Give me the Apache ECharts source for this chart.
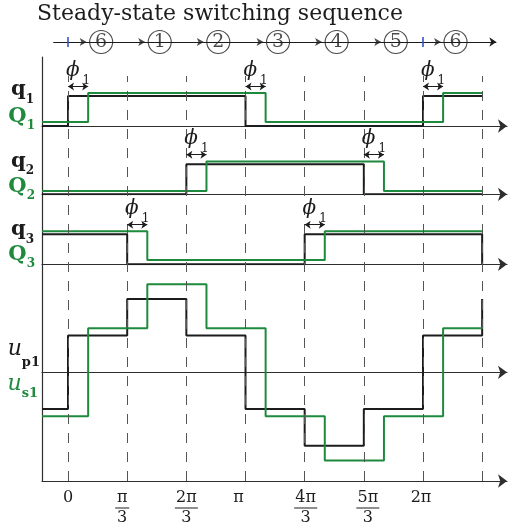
<!DOCTYPE html>
<html><head><meta charset="utf-8">
<script src="https://cdn.jsdelivr.net/npm/echarts@6/dist/echarts.min.js"></script>
<style>html,body{margin:0;padding:0;background:#fff}#c{width:513px;height:522px}</style>
</head><body><div id="c"></div>
<script>
// ---------- data (x measured in units of pi/3) ----------
const X_START = -0.44;          // left edge of the plotted window
const X_END = 7.42;             // right edge (arrow end)
const SECTOR_TICKS = [0, 1, 2, 3, 4, 5, 6, 7];
const TICK_LABELS = ['0', 'π/3', '2π/3', 'π', '4π/3', '5π/3', '2π'];
const PHI = 0.34;               // phase shift phi_1 (in pi/3 units)
const PHI_LEVEL = 1.32;         // height of the phi_1 arrows

const SEQ_POS = [0.56, 1.55, 2.54, 3.55, 4.54, 5.54, 6.55];
const SEQ_LABELS = ['6', '1', '2', '3', '4', '5', '6'];
const SEQ_MARKS = [0, 6];
const SEQ_RANGE = [-0.25, 7.24];

// gate signals: switching instants and levels
const q1_x = [X_START, 0, 3, 6, 7];            const q1_v = [0, 1, 0, 1, 1];
const Q1_x = [X_START, 0.34, 3.34, 6.34, 7];   const Q1_v = [0.13, 1.1, 0.13, 1.1, 1.1];
const q2_x = [X_START, 2, 5, 7];               const q2_v = [0, 1, 0, 0];
const Q2_x = [X_START, 2.34, 5.34, 7];         const Q2_v = [0.11, 1.09, 0.11, 0.11];
const q3_x = [X_START, 1, 4, 7];               const q3_v = [1, 0, 1, 0];
const Q3_x = [X_START, 1.34, 4.34, 7];         const Q3_v = [1.1, 0.14, 1.1, 1.1];
const q1_phi = [0, 3, 6];
const q2_phi = [2, 5];
const q3_phi = [1, 4];

// phase voltages
const up1_x = [X_START, 0, 1, 2, 3, 4, 5, 6, 7];
const up1_v = [-1, 1, 2, 1, -1, -2, -1, 1, 2];
const us1_x = [X_START, 0.34, 1.34, 2.34, 3.34, 4.34, 5.34, 6.34, 7];
const us1_v = [-1.2, 1.2, 2.4, 1.2, -1.2, -2.4, -1.2, 1.2, 1.2];

// ---------- styling ----------
const SERIF = 'DejaVu Serif';
const INK = '#1c1c1c', GREEN = '#1e8a3d', AXIS = '#2e2e2e', DASH = '#555555', BLUE = '#3553c8';
const LEFT = 42, RIGHT = 6;
const LABEL_NUDGE = [0, -5, 0, -7, 1, 4, -2];   // horizontal pixel nudges of the tick labels

function mkGrid(o) { return Object.assign({ left: LEFT, right: RIGHT, containLabel: false, outerBoundsMode: 'none' }, o); }
const grids = [
  mkGrid({ top: 57, bottom: 41 }),          // 0 frame
  mkGrid({ top: 76, bottom: 41 }),          // 1 dashed guides
  mkGrid({ top: 81, height: 45 }),          // 2 q1
  mkGrid({ top: 149.3, height: 45 }),       // 3 q2
  mkGrid({ top: 219.3, height: 45 }),       // 4 q3
  mkGrid({ top: 262.2, height: 220.2 }),    // 5 u
  mkGrid({ top: 30, height: 24 })           // 6 sequence
];

const arrowLine = { show: true, onZero: false, symbol: ['none', 'arrow'], symbolSize: [10, 9], lineStyle: { color: AXIS, width: 1.2 } };

const tickRich = {
  n: { fontFamily: SERIF, fontSize: 16, lineHeight: 17, color: INK },
  d: { fontFamily: SERIF, fontSize: 16, lineHeight: 16, color: INK },
  bn: { width: 14, height: 1, lineHeight: 4, fontSize: 1, backgroundColor: INK },
  bw: { width: 23, height: 1, lineHeight: 4, fontSize: 1, backgroundColor: INK }
};
for (let w = 1; w <= 20; w++) tickRich['sp' + w] = { width: w, fontSize: 1 };
function tickFmt(v) {
  const i = SECTOR_TICKS.indexOf(v);
  const t = TICK_LABELS[i];
  if (t === undefined) return '';
  const s = LABEL_NUDGE[i] || 0;
  const w = Math.round(Math.abs(s) * 2);
  const pad = body => w === 0 ? body : (s < 0 ? body + '{sp' + w + '| }' : '{sp' + w + '| }' + body);
  const p = t.split('/');
  if (p.length === 1) return pad('{n|' + t + '}');
  return [pad('{n|' + p[0] + '}'), pad('{' + (p[0].length > 1 ? 'bw' : 'bn') + '| }'), pad('{d|' + p[1] + '}')].join('\n');
}

function xAx(g, extra) {
  return Object.assign({ type: 'value', gridIndex: g, min: X_START, max: X_END,
    splitLine: { show: false }, axisTick: { show: false }, axisLabel: { show: false }, axisLine: { show: false } }, extra || {});
}
const xAxes = [
  xAx(0, { axisLine: arrowLine, axisLabel: { show: true, hideOverlap: false, customValues: [0, 1, 2, 3, 4, 5, 6], margin: 8,
      formatter: tickFmt, rich: tickRich } }),
  xAx(1, { show: false }),
  xAx(2, { axisLine: arrowLine }),
  xAx(3, { axisLine: arrowLine }),
  xAx(4, { axisLine: arrowLine }),
  xAx(5, { axisLine: Object.assign({}, arrowLine, { onZero: true }) }),
  xAx(6, { show: false })
];

const qRich = {
  k: { fontFamily: SERIF, fontWeight: 'bold', fontSize: 21, lineHeight: 24, padding: [0, 0, 8, 0], color: INK },
  ks: { fontFamily: SERIF, fontWeight: 'bold', fontSize: 12, lineHeight: 12, verticalAlign: 'bottom', color: INK },
  g: { fontFamily: SERIF, fontWeight: 'bold', fontSize: 21, lineHeight: 24, padding: [0, 0, 6, 0], color: GREEN },
  gs: { fontFamily: SERIF, fontWeight: 'bold', fontSize: 12, lineHeight: 12, verticalAlign: 'bottom', color: GREEN }
};
const uRich = {
  u: { fontFamily: SERIF, fontStyle: 'italic', fontSize: 22, lineHeight: 24, padding: [0, 0, 16, 0], color: INK },
  p: { fontFamily: SERIF, fontWeight: 'bold', fontSize: 13, lineHeight: 14, verticalAlign: 'bottom', color: INK },
  v: { fontFamily: SERIF, fontStyle: 'italic', fontSize: 22, lineHeight: 24, padding: [0, 0, 9, 0], color: GREEN },
  s: { fontFamily: SERIF, fontWeight: 'bold', fontSize: 13, lineHeight: 14, verticalAlign: 'bottom', color: GREEN }
};
// label-only y axis (one label per axis so none is hidden by overlap handling)
function labelAxis(g, min, max, at, text, rich, margin) {
  return { type: 'value', gridIndex: g, min: min, max: max, position: 'left',
    splitLine: { show: false }, axisLine: { show: false, onZero: false }, axisTick: { show: false },
    axisLabel: { show: true, hideOverlap: false, customValues: [at], margin: margin, align: 'right',
      formatter: () => text, rich: rich } };
}
const yAxes = [
  { type: 'value', gridIndex: 0, min: 0, max: 1, splitLine: { show: false }, axisTick: { show: false }, axisLabel: { show: false },
    axisLine: { show: true, onZero: false, lineStyle: { color: AXIS, width: 1.2 } } },
  { type: 'value', gridIndex: 1, min: 0, max: 1, show: false },
  labelAxis(2, 0, 1.5, 1.08, '{k|q}{ks|1}', qRich, 8),
  labelAxis(3, 0, 1.5, 0.97, '{k|q}{ks|2}', qRich, 8),
  labelAxis(4, 0, 1.5, 1.03, '{k|q}{ks|3}', qRich, 8),
  labelAxis(5, -3, 3, 0.42, '{u|u}{p|p1}', uRich, 2),
  { type: 'value', gridIndex: 6, min: -1, max: 1, show: false },
  labelAxis(2, 0, 1.5, 0.22, '{g|Q}{gs|1}', qRich, 7),
  labelAxis(3, 0, 1.5, 0.15, '{g|Q}{gs|2}', qRich, 7),
  labelAxis(4, 0, 1.5, 0.23, '{g|Q}{gs|3}', qRich, 7),
  labelAxis(5, -3, 3, -0.44, '{v|u}{s|s1}', uRich, 4)
];

function stepSeries(xs, vs, g, color, extra) {
  return Object.assign({ type: 'line', xAxisIndex: g, yAxisIndex: g, step: 'end', symbol: 'none', showSymbol: false, silent: true,
    data: xs.map((x, i) => [x, vs[i]]), lineStyle: { color: color, width: 2 }, itemStyle: { color: color }, z: 3 }, extra || {});
}
function phiMark(edges) {
  return { silent: true, symbol: ['arrow', 'arrow'], symbolSize: 6,
    lineStyle: { color: INK, width: 1, type: 'solid' },
    label: { show: true, position: 'insideMiddleTop', distance: 0, formatter: '{p|ϕ}{s|1}',
      rich: {
        p: { fontFamily: SERIF, fontStyle: 'italic', fontSize: 20, lineHeight: 24, padding: [0, 0, 8, 0], color: INK },
        s: { fontFamily: SERIF, fontSize: 12, lineHeight: 14, verticalAlign: 'bottom', padding: [0, 0, 0, 3], color: INK }
      } },
    data: edges.map(e => [{ coord: [e, PHI_LEVEL] }, { coord: [e + PHI, PHI_LEVEL] }]) };
}

const series = [
  { type: 'scatter', xAxisIndex: 1, yAxisIndex: 1, data: [], z: 1,
    markLine: { silent: true, symbol: ['none', 'none'], label: { show: false },
      lineStyle: { type: [10, 9], color: DASH, width: 1 },
      data: SECTOR_TICKS.map(x => ({ xAxis: x })) } },
  stepSeries(q1_x, q1_v, 2, INK),
  stepSeries(Q1_x, Q1_v, 2, GREEN, { markLine: phiMark(q1_phi) }),
  stepSeries(q2_x, q2_v, 3, INK),
  stepSeries(Q2_x, Q2_v, 3, GREEN, { markLine: phiMark(q2_phi) }),
  stepSeries(q3_x, q3_v, 4, INK),
  stepSeries(Q3_x, Q3_v, 4, GREEN, { markLine: phiMark(q3_phi) }),
  stepSeries(up1_x, up1_v, 5, INK),
  stepSeries(us1_x, us1_v, 5, GREEN),
  { type: 'scatter', xAxisIndex: 6, yAxisIndex: 6, data: [], z: 2,
    markLine: { silent: true, symbol: ['none', 'arrow'], symbolSize: 7, label: { show: false },
      lineStyle: { color: INK, width: 1, type: 'solid' },
      data: [[{ coord: [SEQ_RANGE[0], 0] }, { coord: [SEQ_RANGE[1], 0] }]] } },
  { type: 'scatter', xAxisIndex: 6, yAxisIndex: 6, silent: true, z: 4, symbol: 'arrow', symbolSize: [6, 7], symbolRotate: -90,
    symbolOffset: [-14.5, 0], itemStyle: { color: INK }, data: SEQ_POS.map(x => [x, 0]) },
  { type: 'scatter', xAxisIndex: 6, yAxisIndex: 6, silent: true, z: 4, symbol: 'circle', symbolSize: 23,
    itemStyle: { color: '#fff', borderColor: INK, borderWidth: 1.1 },
    label: { show: true, position: 'inside', formatter: p => p.name, fontFamily: SERIF, fontSize: 19, color: INK },
    data: SEQ_POS.map((x, i) => ({ value: [x, 0], name: SEQ_LABELS[i] })) },
  { type: 'scatter', xAxisIndex: 6, yAxisIndex: 6, silent: true, z: 5, symbol: 'rect', symbolSize: [2, 10],
    itemStyle: { color: BLUE }, data: SEQ_MARKS.map(x => [x, 0]) }
];

const chart = echarts.init(document.getElementById('c'), null, { renderer: 'canvas' });
chart.setOption({
  animation: false,
  backgroundColor: '#fff',
  title: { text: 'Steady-state switching sequence', left: 37, top: 3, padding: 0,
    textStyle: { fontFamily: SERIF, fontSize: 22, fontWeight: 'normal', color: INK } },
  grid: grids, xAxis: xAxes, yAxis: yAxes, series: series
});
</script></body></html>
